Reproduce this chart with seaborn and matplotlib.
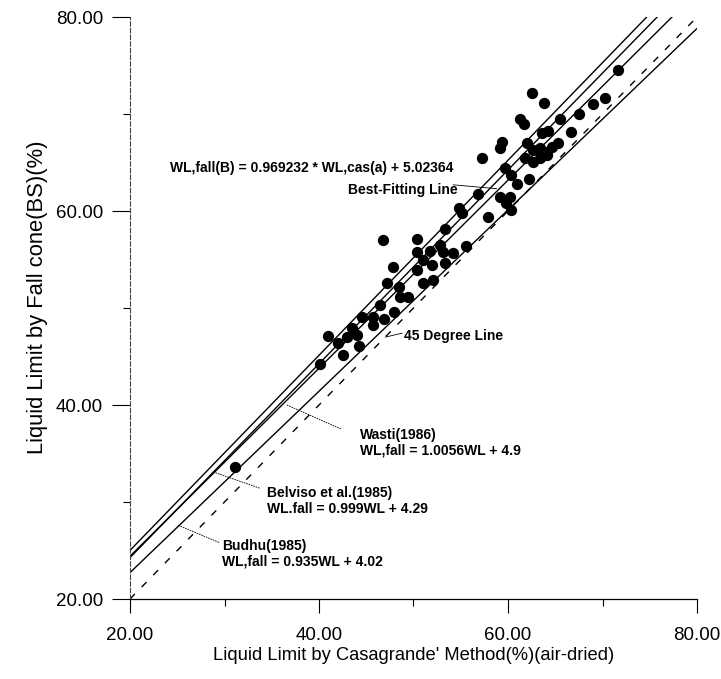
import numpy as np
import pandas as pd
import matplotlib
matplotlib.use("Agg")
import matplotlib.pyplot as plt
from matplotlib.ticker import MultipleLocator, FormatStrFormatter
import seaborn as sns

# ------------------------------------------------------------------
# data
# ------------------------------------------------------------------
wl_cas = [71.6, 70.3, 69.0, 67.5, 65.5, 62.5, 63.8, 61.3, 61.7, 66.7,
          65.3, 63.6, 64.2, 59.4, 59.2, 57.2, 62.0, 62.6, 63.4, 64.1,
          64.7, 61.8, 62.6, 63.4, 64.1, 62.2, 59.7, 60.3, 61.0, 56.8,
          59.2, 60.2, 59.8, 60.3, 54.8, 55.1, 57.9, 53.3, 46.8, 50.4,
          55.6, 50.4, 51.7, 52.8, 53.1, 54.2, 51.0, 52.0, 53.3, 50.4,
          47.8, 51.0, 52.1, 47.2, 48.5, 48.6, 49.4, 46.5, 44.6, 45.7,
          45.7, 46.9, 47.9, 43.5, 41.0, 42.0, 43.0, 44.0, 44.2, 42.5,
          40.1, 31.1]
wl_fall = [74.5, 71.6, 71.0, 70.0, 69.5, 72.2, 71.1, 69.5, 69.0, 68.1,
           67.0, 68.0, 68.2, 67.1, 66.5, 65.5, 67.0, 66.3, 66.5, 66.1,
           66.6, 65.5, 65.1, 65.5, 65.8, 63.3, 64.4, 63.7, 62.8, 61.8,
           61.4, 61.4, 60.8, 60.1, 60.3, 59.8, 59.4, 58.1, 57.0, 57.1,
           56.4, 55.8, 55.9, 56.5, 55.8, 55.7, 55.0, 54.4, 54.6, 53.9,
           54.2, 52.6, 52.9, 52.6, 52.2, 51.1, 51.1, 50.3, 49.1, 49.1,
           48.2, 48.9, 49.6, 47.9, 47.1, 46.4, 47.0, 47.2, 46.1, 45.2,
           44.2, 33.6]

# straight lines given on the chart: WL,fall = slope * WL + intercept
line_names = ["Best-Fitting Line", "Wasti(1986)", "Belviso et al.(1985)", "Budhu(1985)"]
line_slopes = [0.969232, 1.0056, 0.999, 0.935]
line_icepts = [5.02364, 4.9, 4.29, 4.02]
line_range = [20.0, 80.0]

x_ticks = [20, 40, 60, 80]
y_ticks = [20, 40, 60, 80]

df = pd.DataFrame({"cas": wl_cas, "fall": wl_fall})

sns.set_theme(style="white")
plt.rcParams["font.family"] = ["Liberation Sans", "DejaVu Sans"]

fig = plt.figure(figsize=(7.21, 6.79), dpi=100)
ax = fig.add_axes([130 / 721, 1 - 599 / 679, (697 - 130) / 721, (599 - 17) / 679])

# reference lines
for name, m, c in zip(line_names, line_slopes, line_icepts):
    xs = np.array(line_range)
    sns.lineplot(x=xs, y=m * xs + c, ax=ax, color="black", lw=1.0)
sns.lineplot(x=line_range, y=line_range, ax=ax, color="black", lw=1.0,
             linestyle=(0, (5, 7)))

sns.scatterplot(data=df, x="cas", y="fall", ax=ax, color="black", s=66,
                edgecolor="black", linewidth=0, zorder=5)

# labels and leader lines
bold = dict(fontsize=10, fontweight="bold", color="black")
ax.text(24.2, 64.4, "WL,fall(B) = 0.969232 * WL,cas(a) + 5.02364", va="center", **bold)
ax.text(43.1, 62.2, "Best-Fitting Line", va="center", **bold)
ax.plot([54.2, 58.8], [62.7, 62.3], color="black", lw=0.6)
ax.text(49.0, 47.1, "45 Degree Line", va="center", **bold)
ax.plot([47.0, 48.8], [47.0, 47.4], color="black", lw=0.6)

ax.text(44.3, 36.1, "Wasti(1986)\nWL,fall = 1.0056WL + 4.9", va="center",
        linespacing=1.15, **bold)
ax.plot([36.6, 42.4], [40.0, 37.5], color="black", lw=0.6, linestyle=(0, (2, 1)))
ax.text(34.5, 30.1, "Belviso et al.(1985)\nWL.fall = 0.999WL + 4.29", va="center",
        linespacing=1.15, **bold)
ax.plot([28.8, 33.8], [33.1, 31.4], color="black", lw=0.6, linestyle=(0, (2, 1)))
ax.text(29.7, 24.7, "Budhu(1985)\nWL,fall = 0.935WL + 4.02", va="center",
        linespacing=1.15, **bold)
ax.plot([25.1, 29.5], [27.6, 25.8], color="black", lw=0.6, linestyle=(0, (2, 1)))

# axes
ax.set_xlim(20, 80)
ax.set_ylim(20, 80)
ax.set_xticks(x_ticks)
ax.set_yticks(y_ticks)
ax.xaxis.set_minor_locator(MultipleLocator(10))
ax.yaxis.set_minor_locator(MultipleLocator(10))
ax.xaxis.set_major_formatter(FormatStrFormatter("%.2f"))
ax.yaxis.set_major_formatter(FormatStrFormatter("%.2f"))
ax.tick_params(which="major", direction="out", length=10, width=0.8, color="black",
               labelsize=13.5, labelcolor="black", pad=6, bottom=True, left=True)
ax.tick_params(which="minor", direction="out", length=5, width=0.8, color="black",
               bottom=True, left=True)
ax.tick_params(axis="x", which="major", pad=10)
ax.tick_params(axis="y", which="major", length=13, pad=6.5)

for side in ["top", "right"]:
    ax.spines[side].set_visible(False)
ax.spines["left"].set_color("#444444")
ax.spines["left"].set_linewidth(0.8)
ax.spines["left"].set_linestyle((0, (4, 2)))
ax.spines["bottom"].set_color("black")
ax.spines["bottom"].set_linewidth(0.9)

ax.set_xlabel("Liquid Limit by Casagrande' Method(%)(air-dried)", fontsize=13.2, color="black",
              labelpad=2)
ax.set_ylabel("Liquid Limit by Fall cone(BS)(%)", fontsize=15.8, color="black")
ax.yaxis.set_label_coords(-0.1446, 0.519)

fig.savefig("out.png", dpi=100, facecolor="white")
